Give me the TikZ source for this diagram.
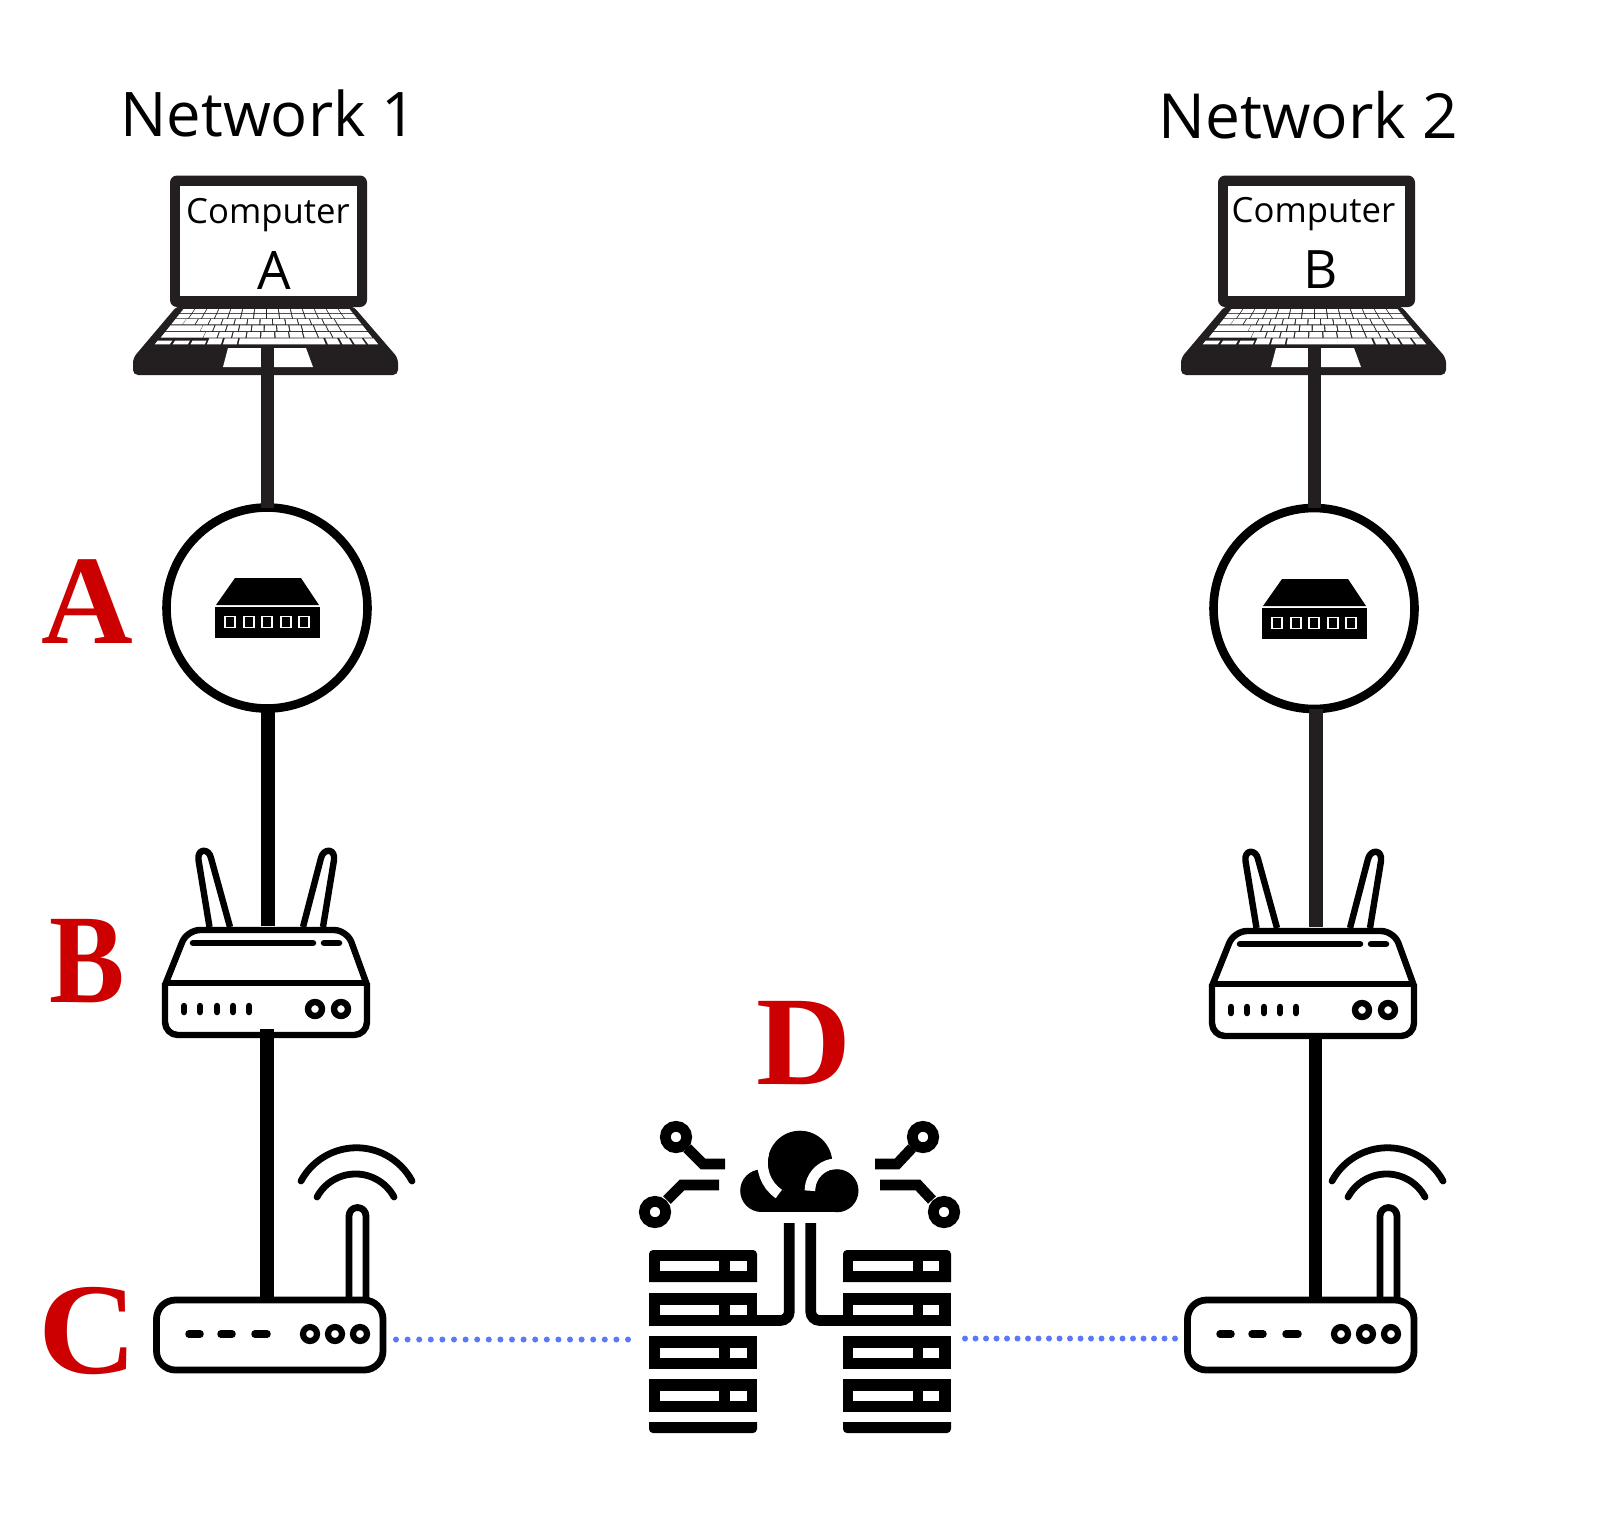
\documentclass[tikz,border=0pt]{standalone}
\usepackage{fontspec}
\setmainfont{Open Sans}
\newfontfamily\redfont{Liberation Serif}
\definecolor{inkdark}{HTML}{231F20}
\definecolor{redmark}{HTML}{CC0000}
\definecolor{bluedot}{HTML}{5A78F8}
% one white key, between two y values, in fractions of the keyboard width
\newcommand{\kbkey}[4]{%
  \pgfmathsetmacro{\kLa}{183-0.8*(#1-309)}\pgfmathsetmacro{\kWa}{167+1.6*(#1-309)}%
  \pgfmathsetmacro{\kLb}{183-0.8*(#2-309)}\pgfmathsetmacro{\kWb}{167+1.6*(#2-309)}%
  \fill[white] ({\kLa+(#3)*\kWa},-#1) -- ({\kLa+(#4)*\kWa},-#1) -- ({\kLb+(#4)*\kWb},-#2) -- ({\kLb+(#3)*\kWb},-#2) -- cycle;}
% n equal keys
\newcommand{\kbrow}[5]{%
  \foreach \kI in {1,...,#3}{%
    \pgfmathsetmacro{\kUa}{#4+(\kI-1)*(#5-#4)/#3+0.003}%
    \pgfmathsetmacro{\kUb}{#4+\kI*(#5-#4)/#3-0.003}%
    \kbkey{#1}{#2}{\kUa}{\kUb}}}
\tikzset{
  x=1pt,y=1pt,
  iconline/.style={line width=6.4pt,line join=round},
  wlanline/.style={line width=6.8pt,line join=round},
  softcap/.style={line cap=round},
  linkdark/.style={draw=inkdark,line width=13pt},
  linkblack/.style={draw=black,line width=14pt},
  dotlink/.style={draw=bluedot,line width=6pt,line cap=round,dash pattern=on 0pt off #1},
  titlelabel/.style={anchor=base,inner sep=0pt},
  screenword/.style={font=\fontsize{34.7}{34.7}\selectfont,anchor=base,inner sep=0pt},
  screenletter/.style={font=\fontsize{53}{53}\selectfont,anchor=base,inner sep=0pt},
  redlabel/.style={font=\redfont\bfseries\fontsize{127}{127}\selectfont,text=redmark,anchor=base,inner sep=0pt},
  ringnode/.style={circle,draw=black,line width=8.6pt,fill=white,minimum size=201pt,inner sep=0pt,outer sep=0pt},
  laptopicon/.pic={
    \fill[inkdark,rounded corners=5pt] (177,-306) -- (133,-358) -- (133,-375) -- (398,-375) -- (398,-358) -- (353,-306) -- cycle;
    \fill[inkdark,rounded corners=7pt] (170,-175.5) rectangle (367,-307);
    \fill[white] (180,-186) rectangle (357,-296);
    \kbrow{309}{313}{14}{0}{1}
    \kbrow{313.8}{318.4}{14}{0}{1}
    \kbkey{319.2}{324.4}{0.003}{0.06}\kbrow{319.2}{324.4}{12}{0.06}{0.87}\kbkey{319.2}{324.4}{0.873}{0.997}
    \kbkey{325.4}{331}{0.003}{0.17}\kbrow{325.4}{331}{11}{0.17}{0.87}\kbkey{325.4}{331}{0.873}{0.997}
    \kbkey{332}{337.6}{0.003}{0.2}\kbrow{332}{337.6}{10}{0.2}{0.88}\kbkey{332}{337.6}{0.883}{0.997}
    \kbkey{340.5}{344.3}{0}{0.067}\kbkey{340.5}{344.3}{0.08}{0.148}\kbkey{340.5}{344.3}{0.16}{0.224}
    \kbkey{338.4}{344.3}{0.233}{0.296}\kbkey{338.4}{344.3}{0.305}{0.367}
    \kbkey{338.4}{344.3}{0.375}{0.765}
    \kbkey{338.4}{344.3}{0.775}{0.83}\kbkey{338.4}{344.3}{0.84}{0.885}\kbkey{338.4}{344.3}{0.895}{0.945}\kbkey{338.4}{344.3}{0.955}{1}
    \fill[white] (228,-348) -- (306,-348) -- (313,-367) -- (223,-367) -- cycle;
  },
  switchicon/.pic={
    \fill[black] (235,-578) -- (301,-578) -- (319,-605) -- (216,-605) -- cycle;
    \fill[black] (215,-607) rectangle (319.5,-638);
    \foreach \px in {230,249,267,286,304}{
      \draw[white,line width=1.5pt,fill=black] (\px-5,-616.5) rectangle (\px+5,-627.5);
    }
  },
  antrouter/.pic={
    \draw[iconline,rounded corners=13pt] (165,-983) -- (165,-1035) -- (367,-1035) -- (367,-983);
    \draw[iconline,rounded corners=13pt] (165,-985) -- (187,-930) -- (347,-930) -- (367,-985);
    \draw[iconline] (165,-983) -- (367,-983);
    \draw[iconline] (209.5,-927) -- (198.5,-860) .. controls (197,-848) and (209,-848) .. (211,-858) -- (230,-927);
    \draw[iconline] (303,-927) -- (321,-858) .. controls (323.5,-848) and (335.5,-848) .. (334,-860) -- (323,-927);
    \draw[softcap,line width=6.5pt] (193,-943) -- (313,-943);
    \draw[softcap,line width=6.5pt] (324,-943) -- (339,-943);
    \foreach \dx in {184,200,217,233,249}{
      \draw[softcap,line width=6.5pt] (\dx,-1006) -- (\dx,-1012);
    }
    \draw[iconline] (315,-1009) circle[radius=7];
    \draw[iconline] (341,-1009) circle[radius=7];
  },
  wlanrouter/.pic={
    \draw[wlanline,rounded corners=19pt] (156.5,-1300) rectangle (383,-1370);
    \foreach \da/\db in {187/202,219/234,253/269}{
      \draw[softcap,line width=7.5pt] (\da+2,-1334) -- (\db-2,-1334);
    }
    \foreach \cx in {310,335,360}{
      \draw[wlanline,line width=6.2pt] (\cx,-1334) circle[radius=7];
    }
    \draw[wlanline] (349,-1298) -- (349,-1216) arc[start angle=180,end angle=0,radius=8.5] -- (366,-1298);
    \draw[wlanline,softcap] (301,-1181) arc[start angle=151.8,end angle=28.2,radius=63];
    \draw[wlanline,softcap] (317,-1197) arc[start angle=151.8,end angle=28.2,radius=43.7];
  }
}
\begin{document}
\begin{tikzpicture}
\useasboundingbox (0,0) rectangle (1600,-1524);
% named ends of the connectors
\coordinate (lapOutA) at (267,-348);
\coordinate (lapOutB) at (1314.5,-348);
\coordinate (antInA) at (268,-926);
\coordinate (antInB) at (1316,-927);
\coordinate (antOutA) at (267,-1029);
\coordinate (antOutB) at (1315.5,-1038);
\coordinate (wlanInA) at (267,-1298);
\coordinate (wlanInB) at (1315.5,-1298);
\coordinate (dotsA1) at (396,-1339.5);
\coordinate (dotsA2) at (628,-1339.5);
\coordinate (dotsB1) at (965,-1338.5);
\coordinate (dotsB2) at (1175,-1338.5);

\pic at (0,0) {laptopicon};
\pic at (1048,0) {laptopicon};

\node[ringnode] (ringA) at (267,-608) {};
\node[ringnode] (ringB) at (1314,-608.5) {};
\draw[linkdark] (lapOutA) -- (lapOutA |- ringA.north);
\draw[linkdark] (lapOutB) -- (lapOutB |- ringB.north);
\draw[linkblack] (antInA |- ringA.south) -- (antInA);
\draw[linkdark,line width=14pt] (antInB |- ringB.south) -- (antInB);
\draw[linkblack] (antOutA) -- (wlanInA);
\draw[linkblack,line width=13.5pt] (antOutB) -- (wlanInB);

\pic at (0,0) {switchicon};
\pic at (1047,-1) {switchicon};
\pic at (0,0) {antrouter};
\pic at (1047,-1) {antrouter};
\pic at (0,0) {wlanrouter};
\pic at (1031,0) {wlanrouter};

\draw[dotlink=11.6pt] (dotsA1) -- (dotsA2);
\draw[dotlink=10.5pt] (dotsB1) -- (dotsB2);

% cloud and servers
\fill[black] (761.5,-1190.7) circle[radius=21.3];
\fill[black] (761.5,-1190.7) rectangle (837,-1212);
\fill[black] (800,-1163) circle[radius=32.3];
\draw[white,line width=10.5pt] (800,-1163) ++(165:37.5) arc[start angle=165,end angle=235.6,radius=37.5];
\draw[white,line width=10.7pt] (837,-1190.7) ++(180:27) arc[start angle=180,end angle=80,radius=27];
\fill[black] (837,-1190.7) circle[radius=21.5];
\foreach \nx/\ny in {676/1137,923/1137,655/1212,944/1212}{
  \draw[black,line width=10.7pt] (\nx,-\ny) circle[radius=10.7];
}
\draw[line width=10.7pt] (687,-1148) -- (703,-1164) -- (725,-1164);
\draw[line width=10.7pt] (667,-1200) -- (682,-1185) -- (719,-1185);
\draw[line width=10.7pt] (912,-1148) -- (897,-1164) -- (875,-1164);
\draw[line width=10.7pt] (932,-1200) -- (918,-1185) -- (880,-1185);
\draw[line width=10.7pt,rounded corners=9pt] (789.3,-1223) -- (789.3,-1320.5) -- (757,-1320.5);
\draw[line width=10.7pt,rounded corners=9pt] (810.7,-1223) -- (810.7,-1320.5) -- (843,-1320.5);
\foreach \sx/\wa/\wb/\wc/\wd in {649/660/719/730/747,843/853/913/923/939}{
  \fill[black] (\sx,-1282) [rounded corners=4pt] -- (\sx,-1250) -- (\sx+108,-1250) [sharp corners] -- (\sx+108,-1282) -- cycle;
  \foreach \sy in {1293,1336,1379}{
    \fill[black] (\sx,-\sy) rectangle (\sx+108,-\sy-33);
  }
  \foreach \sy in {1249,1293,1336,1379}{
    \fill[white] (\wa,-\sy-11.7) rectangle (\wb,-\sy-22.3);
    \fill[white] (\wc,-\sy-11.7) rectangle (\wd,-\sy-22.3);
  }
  \fill[black] (\sx,-1422) [sharp corners] -- (\sx+108,-1422) [rounded corners=4pt] -- (\sx+108,-1433) -- (\sx,-1433) [sharp corners] -- cycle;
}

% texts
\node[titlelabel,font=\fontsize{61.5}{61.5}\selectfont] (titleA) at (268.5,-136) {Network 1};
\node[titlelabel,font=\fontsize{62.2}{62.2}\selectfont] (titleB) at (1308.5,-138) {Network 2};
\node[screenword] (wordA) at (268,-223) {Computer};
\node[screenword] (wordB) at (1313.5,-222) {Computer};
\node[screenletter] (letterA) at (274,-289) {A};
\node[screenletter] (letterB) at (1321,-288.5) {B};
\node[redlabel] (redA) at (87,-643) {A};
\node[redlabel] (redB) at (87.5,-1002) {\scalebox{0.89}[1]{B}};
\node[redlabel] (redC) at (87.5,-1373) {\scalebox{1.077}[1.025]{C}};
\node[redlabel] (redD) at (804,-1084) {\scalebox{1.035}[1]{D}};
\end{tikzpicture}
\end{document}
